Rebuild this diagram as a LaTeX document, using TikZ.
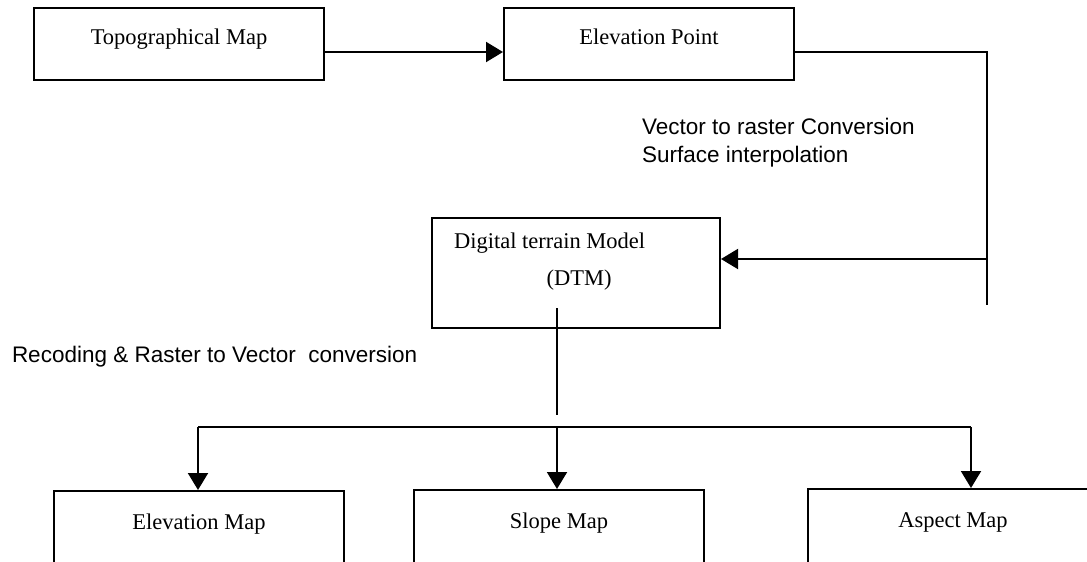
\documentclass[tikz,border=0pt]{standalone}
\usepackage{fontspec}
\setmainfont{Liberation Serif}
\newfontfamily\notefont{Liberation Sans}
\usetikzlibrary{arrows.meta}

\begin{document}
\begin{tikzpicture}[x=0.5pt,y=-0.5pt,line width=1pt,
  box/.style={draw,anchor=north west,inner sep=0pt,minimum width=145pt,minimum height=36pt,
    text height=8pt,text depth=8pt,font=\fontsize{11.25}{14}\selectfont},
  mapbox/.style={box,minimum height=60pt,text depth=30pt},
  arr/.style={-{Triangle[length=8.5pt,width=10pt]}},
  note/.style={anchor=west,align=left,inner sep=0pt,font=\notefont\fontsize{11.25}{14}\selectfont}]
\useasboundingbox (0,0) rectangle (1087,562);
% top row
\node [box] (topo) at (33,7) {Topographical Map};
\node [box] (elev) at (503,7) {Elevation Point};
% model
\node [box,minimum width=144pt,minimum height=55pt] (dtm) at (431,217) {};
\node [anchor=base west,inner sep=0pt,font=\fontsize{11.25}{14}\selectfont] (dtmname) at (453,248) {Digital terrain Model};
\node [anchor=base,inner sep=0pt,font=\fontsize{11.25}{14}\selectfont] (dtmabbr) at (579,285) {(DTM)};
% output maps
\node [mapbox] (emap) at (53,490) {Elevation Map};
\node [mapbox] (smap) at (413,489) {Slope Map};
\node [mapbox] (amap) at (807,488) {Aspect Map};
% notes
\node [note] (vecnote) at (641,143) {Vector to raster Conversion\\Surface interpolation};
\node [note] (recnote) at (11,357) {Recoding \& Raster to Vector\ \ conversion};
% connectors
\coordinate (bendtop) at (987,52);
\coordinate (bendbot) at (987,305);
\coordinate (stemtop) at (557,308);
\coordinate (stembot) at (557,415);
\coordinate (busl) at (198,427);
\coordinate (busm) at (557,427);
\coordinate (busr) at (971,427);
\draw [arr] (topo.east |- bendtop) -- (elev.west |- bendtop);
\draw (elev.east |- bendtop) -- (bendtop) -- (bendbot);
\draw [arr] (987,259) -- (dtm.east |- 0,259);
\draw (stemtop) -- (stembot);
\draw (busl) -- (busr);
\draw [arr] (busl) -- (emap.north -| busl);
\draw [arr] (busm) -- (smap.north -| busm);
\draw [arr] (busr) -- (amap.north -| busr);
\end{tikzpicture}
\end{document}
